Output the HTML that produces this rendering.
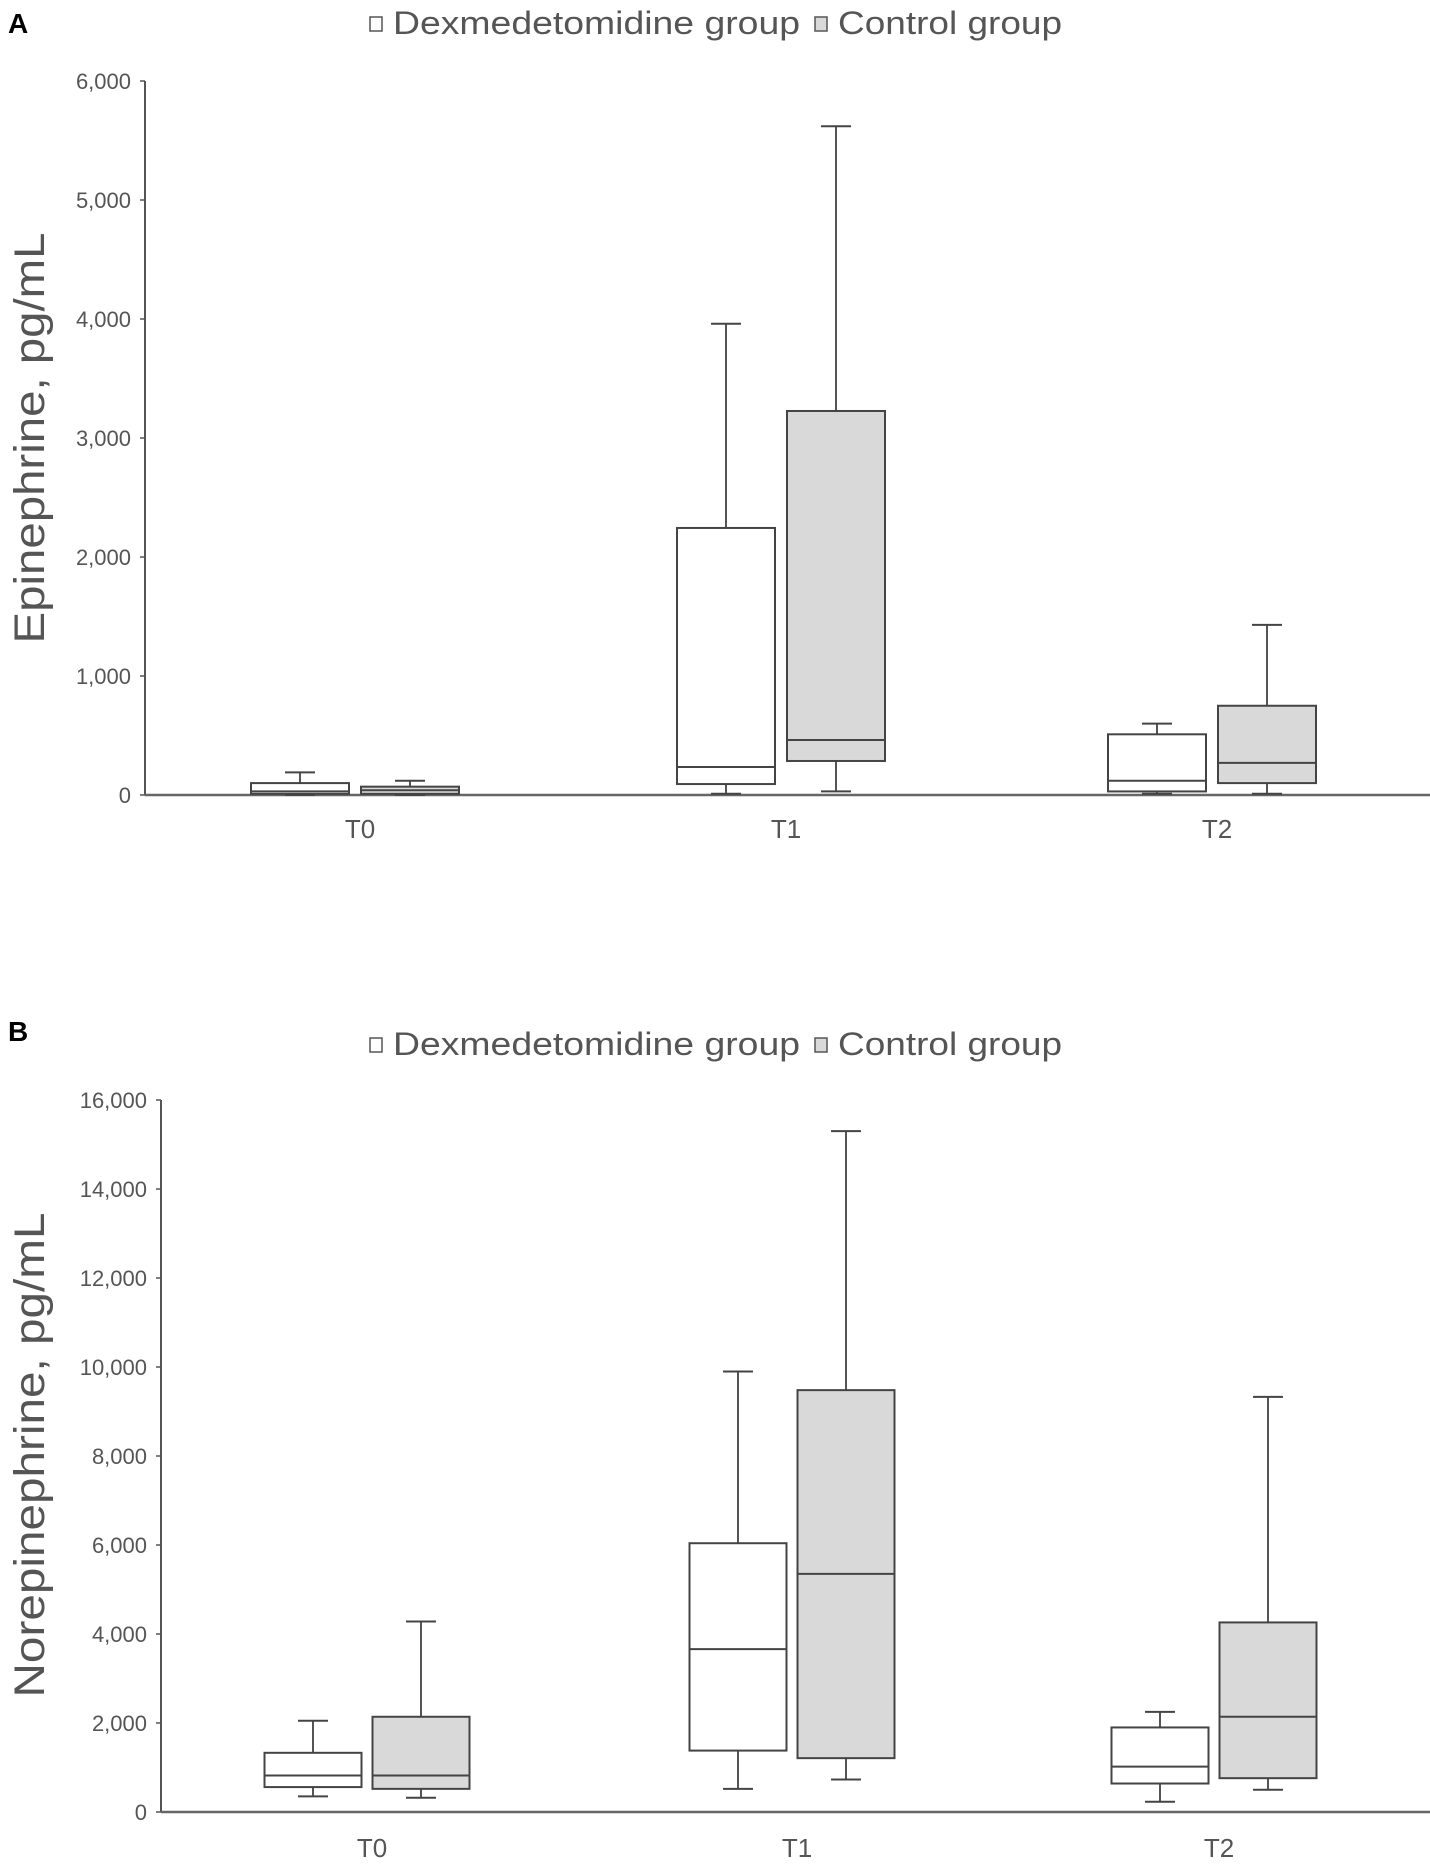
<!DOCTYPE html>
<html><head><meta charset="utf-8">
<style>
html,body{margin:0;padding:0;background:#fff;}
svg{display:block;}
text{font-family:"Liberation Sans",sans-serif;}
</style></head>
<body>
<svg id="chart" width="1430" height="1866" viewBox="0 0 1430 1866" xmlns="http://www.w3.org/2000/svg">
<text x="8" y="33" font-size="28" font-weight="bold" fill="#000">A</text>
<text x="8" y="1041" font-size="28" font-weight="bold" fill="#000">B</text>
<g id="panelA"></g>
<g id="panelB"></g>
</svg>
<script>
const categories = ["T0","T1","T2"];
// Panel A: Epinephrine [min, q1, median, q3, max]
const epiDex  = [[0,10,30,100,190],[10,92,235,2244,3960],[10,30,120,510,600]];
const epiCtrl = [[0,10,40,70,120],[30,286,462,3227,5620],[10,100,270,750,1430]];
const epiTicks = [0,1000,2000,3000,4000,5000,6000];
const epiTickLabels = ["0","1,000","2,000","3,000","4,000","5,000","6,000"];
// Panel B: Norepinephrine
const norDex  = [[350,560,820,1330,2050],[520,1380,3660,6040,9900],[230,640,1020,1900,2250]];
const norCtrl = [[320,520,820,2140,4280],[730,1210,5350,9480,15300],[500,760,2140,4260,9330]];
const norTicks = [0,2000,4000,6000,8000,10000,12000,14000,16000];
const norTickLabels = ["0","2,000","4,000","6,000","8,000","10,000","12,000","14,000","16,000"];

const NS="http://www.w3.org/2000/svg";
function mk(tag, attrs, parent){const e=document.createElementNS(NS,tag);for(const k in attrs)e.setAttribute(k,attrs[k]);parent.appendChild(e);return e;}

function drawPanel(g, cfg){
  const yScale=v=>cfg.y0-(v/cfg.ymax)*(cfg.y0-cfg.y1);
  const xScale=i=>cfg.cx[i];
  const lg=mk('g',{},g);
  
  
  const s1=mk('rect',{x:370,y:cfg.legY-17,width:12,height:14,fill:'#fff',stroke:'#555','stroke-width':1.5},lg);
  
  
  const t1=mk('text',{x:393,y:cfg.legY,'font-size':32,fill:'#555',textLength:407,lengthAdjust:'spacingAndGlyphs'},lg);
  t1.textContent='Dexmedetomidine group';
  
  
  const s2=mk('rect',{x:815,y:cfg.legY-17,width:12,height:14,fill:'#d9d9d9',stroke:'#555','stroke-width':1.5},lg);
  
  
  const t2=mk('text',{x:838,y:cfg.legY,'font-size':32,fill:'#555',textLength:224,lengthAdjust:'spacingAndGlyphs'},lg);
  t2.textContent='Control group';
  
  
  const ya=mk('line',{x1:cfg.ax,y1:cfg.y1,x2:cfg.ax,y2:cfg.y0,stroke:'#555','stroke-width':2},g);
  
  
  cfg.ticks.forEach((v,i)=>{
    const y=yScale(v);
    const tk=mk('line',{x1:cfg.ax-5,y1:y,x2:cfg.ax,y2:y,stroke:'#555','stroke-width':1.5},g);
    
    
    const tl=mk('text',{x:cfg.ax-14,y:y+8,'font-size':22,fill:'#555','text-anchor':'end'},g);
    tl.textContent=cfg.tickLabels[i];
    
    
  });
  const xa=mk('line',{x1:cfg.ax,y1:cfg.y0,x2:1430,y2:cfg.y0,stroke:'#666','stroke-width':2.5},g);
  
  
  const yt=mk('text',{x:0,y:0,'font-size':43,fill:'#555','text-anchor':'middle',textLength:cfg.titleLen,lengthAdjust:'spacingAndGlyphs',transform:`translate(${cfg.titleX},${cfg.titleY}) rotate(-90)`},g);
  yt.textContent=cfg.title;
  
  
  categories.forEach((c,i)=>{
    const xl=mk('text',{x:xScale(i),y:cfg.labY,'font-size':26,fill:'#555','text-anchor':'middle'},g);
    xl.textContent=c;
    
    
    [[cfg.dex[i],cfg.offD,'#fff','dexmedetomidine'],[cfg.ctrl[i],cfg.offC,'#d9d9d9','control']].forEach(([d,off,fill,nm])=>{
      const cx=xScale(i)+off, w=cfg.bw;
      const bg=mk('g',{},g);
      
      
      mk('line',{x1:cx,y1:yScale(d[4]),x2:cx,y2:yScale(d[3]),stroke:'#555','stroke-width':2},bg);
      mk('line',{x1:cx-15,y1:yScale(d[4]),x2:cx+15,y2:yScale(d[4]),stroke:'#444','stroke-width':2},bg);
      mk('line',{x1:cx,y1:yScale(d[1]),x2:cx,y2:yScale(d[0]),stroke:'#555','stroke-width':2},bg);
      mk('line',{x1:cx-15,y1:yScale(d[0]),x2:cx+15,y2:yScale(d[0]),stroke:'#444','stroke-width':2},bg);
      mk('rect',{x:cx-w/2,y:yScale(d[3]),width:w,height:Math.max(1,yScale(d[1])-yScale(d[3])),fill:fill,stroke:'#444','stroke-width':2},bg);
      mk('line',{x1:cx-w/2,y1:yScale(d[2]),x2:cx+w/2,y2:yScale(d[2]),stroke:'#444','stroke-width':2},bg);
    });
  });
}
drawPanel(document.getElementById('panelA'),{ax:145,y0:795,y1:81,ymax:6000,cx:[360,786,1217],offD:-60,offC:50,bw:98,
  dex:epiDex,ctrl:epiCtrl,ticks:epiTicks,tickLabels:epiTickLabels,title:'Epinephrine, pg/mL',titleLen:411,titleX:44,titleY:438,labY:838,legY:34});
drawPanel(document.getElementById('panelB'),{ax:161,y0:1812,y1:1100,ymax:16000,cx:[372,797,1219],offD:-59,offC:49,bw:97,
  dex:norDex,ctrl:norCtrl,ticks:norTicks,tickLabels:norTickLabels,title:'Norepinephrine, pg/mL',titleLen:485,titleX:44,titleY:1455,labY:1857,legY:1055});
</script>
</body></html>
